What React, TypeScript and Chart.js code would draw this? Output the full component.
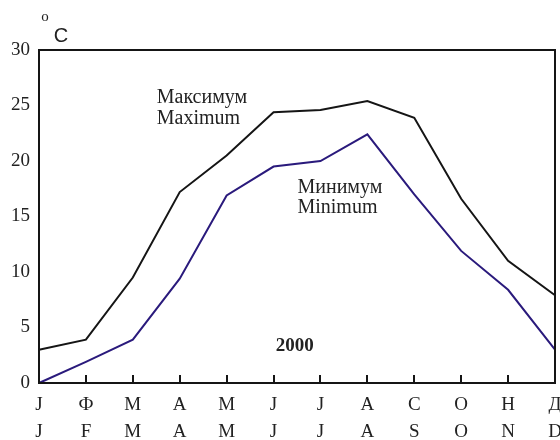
import React, { useEffect, useRef } from 'react';
import { Chart, registerables } from 'chart.js';

Chart.register(...registerables);

const ruLabels = ['J', 'Ф', 'М', 'А', 'М', 'J', 'J', 'А', 'С', 'О', 'Н', 'Д'];
const enLabels = ['J', 'F', 'M', 'A', 'M', 'J', 'J', 'A', 'S', 'O', 'N', 'D'];
const maxTemps = [3.0, 3.9, 9.5, 17.2, 20.5, 24.4, 24.6, 25.4, 23.9, 16.6, 11.0, 7.9];
const minTemps = [0.0, 1.9, 3.9, 9.4, 16.9, 19.5, 20.0, 22.4, 17.0, 11.9, 8.4, 3.0];
const yTicks = [0, 5, 10, 15, 20, 25, 30];

const SERIF = "'Liberation Serif', 'Times New Roman', serif";

const framePlugin = {
  id: 'frame',
  afterDatasetsDraw(chart: any) {
    const { ctx, chartArea: a, scales } = chart;
    const x = scales.x;
    const y = scales.y;
    ctx.save();
    ctx.strokeStyle = '#151515';
    ctx.lineWidth = 2;
    ctx.strokeRect(a.left, a.top, a.right - a.left, a.bottom - a.top);
    ctx.beginPath();
    for (let i = 1; i < ruLabels.length - 1; i++) {
      const px = Math.round(x.getPixelForValue(i));
      ctx.moveTo(px, a.bottom);
      ctx.lineTo(px, a.bottom - 8);
    }
    ctx.stroke();

    ctx.fillStyle = '#222';
    ctx.textBaseline = 'middle';
    ctx.textAlign = 'left';
    ctx.font = `20px ${SERIF}`;
    ctx.fillText('Максимум', x.getPixelForValue(2.51), y.getPixelForValue(25.74));
    ctx.fillText('Maximum', x.getPixelForValue(2.51), y.getPixelForValue(23.78));
    ctx.fillText('Минимум', x.getPixelForValue(5.51), y.getPixelForValue(17.6));
    ctx.fillText('Minimum', x.getPixelForValue(5.51), y.getPixelForValue(15.8));
    ctx.textAlign = 'center';
    ctx.font = `bold 19px ${SERIF}`;
    ctx.fillText('2000', x.getPixelForValue(5.45), y.getPixelForValue(3.36));

    ctx.font = `15px ${SERIF}`;
    ctx.fillText('o', a.left + 6, a.top - 33);
    ctx.font = `20px 'Liberation Sans', Arial, sans-serif`;
    ctx.fillText('C', a.left + 22, a.top - 14);
    ctx.restore();
  },
};

export default function App() {
  const ref = useRef<HTMLCanvasElement | null>(null);
  useEffect(() => {
    if (!ref.current) return;
    const chart = new Chart(ref.current, {
      type: 'line',
      data: {
        labels: ruLabels.map((r, i) => [r, enLabels[i]]),
        datasets: [
          {
            label: 'Maximum',
            data: maxTemps,
            borderColor: '#151515',
            borderWidth: 2,
            pointRadius: 0,
            tension: 0,
            fill: false,
            clip: false as any,
          },
          {
            label: 'Minimum',
            data: minTemps,
            borderColor: '#2a1a7c',
            borderWidth: 2,
            pointRadius: 0,
            tension: 0,
            fill: false,
            clip: false as any,
          },
        ],
      },
      options: {
        responsive: false,
        animation: false,
        layout: { padding: { top: 50, right: 5, left: 0, bottom: 0 } },
        plugins: {
          legend: { display: false },
          tooltip: { enabled: false },
          title: { display: false },
        },
        scales: {
          x: {
            type: 'category',
            offset: false,
            grid: { display: false, drawTicks: false },
            border: { display: false },
            ticks: {
              autoSkip: false,
              maxRotation: 0,
              padding: 9,
              color: '#222',
              font: { family: SERIF, size: 19, lineHeight: 27 / 19 },
            },
            afterFit: (s: any) => {
              s.height = 57;
              s.paddingLeft = 0;
              s.paddingRight = 0;
            },
          },
          y: {
            min: 0,
            max: 30,
            grid: { display: false, drawTicks: false },
            border: { display: false },
            afterBuildTicks: (s: any) => {
              s.ticks = yTicks.map((v) => ({ value: v }));
            },
            ticks: {
              padding: 9,
              color: '#222',
              font: { family: SERIF, size: 19 },
            },
            afterFit: (s: any) => {
              s.width = 39;
              s.paddingTop = 0;
              s.paddingBottom = 0;
            },
          },
        },
      },
      plugins: [framePlugin],
    });
    return () => chart.destroy();
  }, []);
  return (
    <div style={{ position: 'absolute', left: 0, top: 0, width: 560, height: 440, background: '#fff' }}>
      <canvas ref={ref} width={560} height={440} style={{ display: 'block' }} />
    </div>
  );
}
